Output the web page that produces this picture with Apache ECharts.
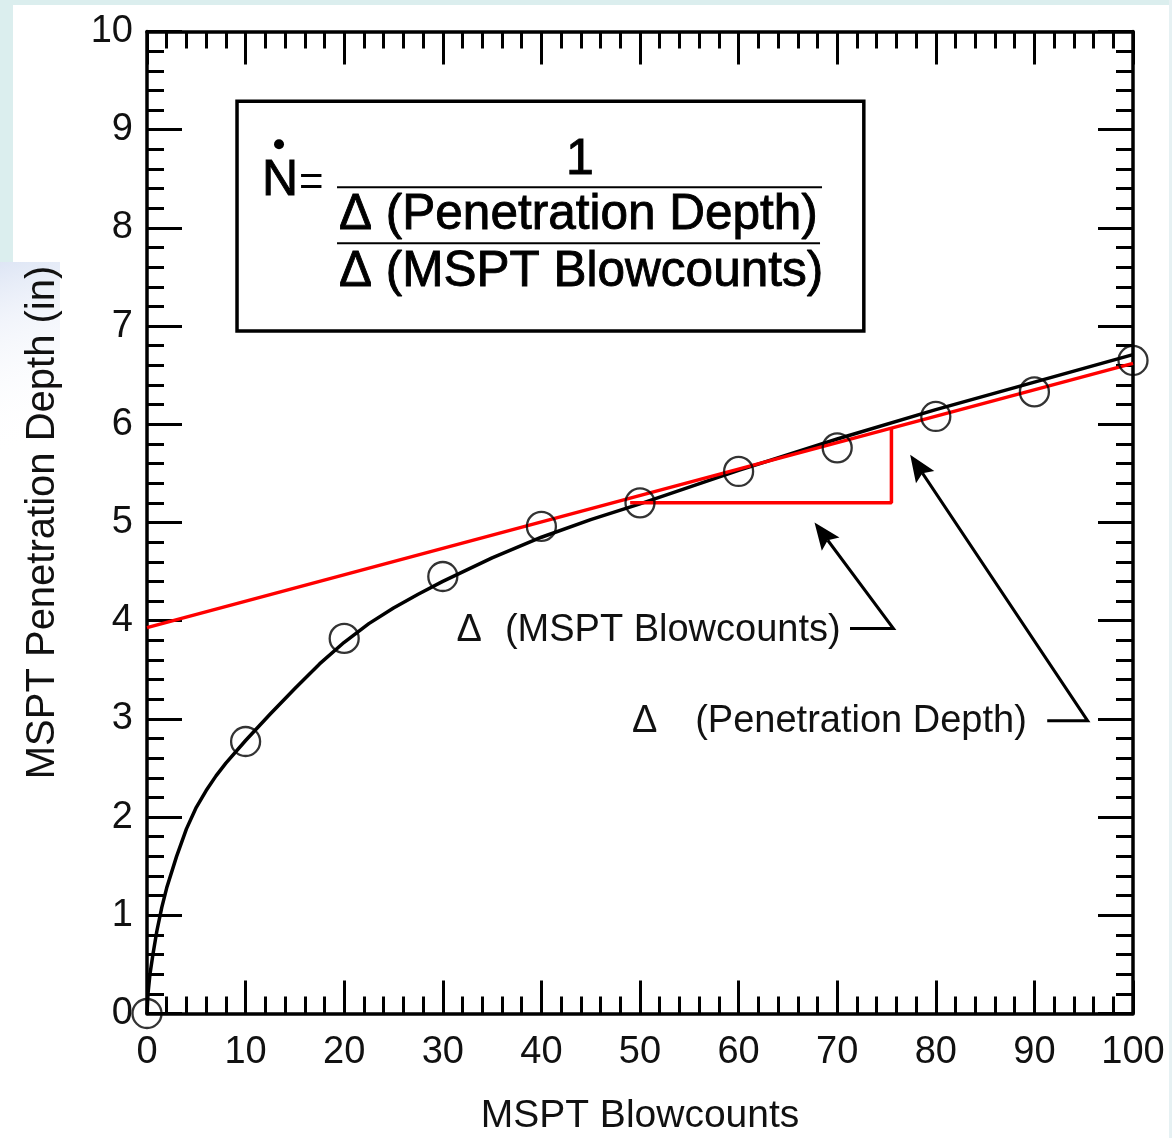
<!DOCTYPE html>
<html><head><meta charset="utf-8">
<script src="https://cdn.jsdelivr.net/npm/echarts@6/dist/echarts.min.js"></script>
<style>html,body{margin:0;padding:0;background:#fff}#c{width:1172px;height:1138px}</style>
</head><body><div id="c"></div>
<script>
// Measured MSPT data (circles)
const blowcounts = [0, 10, 20, 30, 40, 50, 60, 70, 80, 90, 100];
const depth = [0, 2.77, 3.82, 4.45, 4.96, 5.20, 5.52, 5.76, 6.08, 6.33, 6.65];
// Fitted curve (black)
const fitX = [0, 0.1, 0.3, 0.6, 1, 1.5, 2, 3, 4, 5, 6, 7, 8, 10, 12.5, 15, 17.5, 20, 22.5, 25, 27.5, 30, 35, 40, 45, 50, 60, 70, 80, 90, 100];
const fitY = [0, 0.2, 0.4, 0.6, 0.84, 1.08, 1.28, 1.6, 1.88, 2.1, 2.27, 2.42, 2.55, 2.78, 3.05, 3.31, 3.56, 3.78, 3.97, 4.13, 4.27, 4.4, 4.64, 4.85, 5.03, 5.19, 5.53, 5.85, 6.15, 6.43, 6.71];
// Tangent line (red)
const tangentX = [0, 100];
const tangentY = [3.93, 6.62];
// Slope triangle (red)
const triX = [49, 75.5, 75.5];
const triY = [5.2, 5.2, 5.96];
// Annotation anchors (data coordinates)
const arrow1 = [[71.3, 3.92], [75.7, 3.92], [67.7, 5.0]];
const arrow2 = [[91.3, 2.98], [95.4, 2.98], [77.4, 5.69]];
const label1 = { delta: [31.4, 3.905], text: [36.3, 3.905], str: '(MSPT Blowcounts)' };
const label2 = { delta: [49.2, 2.97], text: [55.6, 2.97], str: '(Penetration Depth)' };
const boxCorners = [[9.13, 9.29], [72.7, 6.95]];
const eqNumerator = '1';
const eqDenTop = '\u0394 (Penetration Depth)';
const eqDenBottom = '\u0394 (MSPT Blowcounts)';

const FONT = '"Liberation Sans", Arial, Helvetica, sans-serif';
const zip = (a, b) => a.map((v, i) => [v, b[i]]);

const chart = echarts.init(document.getElementById('c'), null, { renderer: 'canvas' });

const tickStyle = { color: '#000', width: 3 };
function xAx(pos, labels) {
  return {
    type: 'value', position: pos, min: 0, max: 100, interval: 10,
    name: labels ? 'MSPT Blowcounts' : '', nameLocation: 'middle', nameGap: 83,
    nameTextStyle: { fontFamily: FONT, fontSize: 39, color: '#111' },
    axisLine: { show: true, onZero: false, lineStyle: { color: '#000', width: 3.5 } },
    axisTick: { show: true, inside: true, length: 33, lineStyle: tickStyle },
    minorTick: { show: true, splitNumber: 5, length: 17, lineStyle: tickStyle },
    axisLabel: { show: labels, margin: 20, fontFamily: FONT, fontSize: 38, color: '#111' },
    splitLine: { show: false }, minorSplitLine: { show: false }
  };
}
function yAx(pos, labels) {
  return {
    type: 'value', position: pos, min: 0, max: 10, interval: 1,
    name: labels ? 'MSPT Penetration Depth (in)' : '', nameLocation: 'middle', nameGap: 84,
    nameTextStyle: { fontFamily: FONT, fontSize: 40, color: '#111' },
    axisLine: { show: true, onZero: false, lineStyle: { color: '#000', width: 3.5 } },
    axisTick: { show: true, inside: true, length: 35, lineStyle: tickStyle },
    minorTick: { show: true, splitNumber: 5, length: 17, lineStyle: tickStyle },
    axisLabel: { show: labels, margin: 14, fontFamily: FONT, fontSize: 38, color: '#111' },
    splitLine: { show: false }, minorSplitLine: { show: false }
  };
}

chart.setOption({
  animation: false,
  backgroundColor: '#fff',
  grid: { left: 147, right: 39, top: 31.5, bottom: 124.5, containLabel: false, outerBoundsMode: 'none' },
  xAxis: [xAx('bottom', true), xAx('top', false)],
  yAxis: [yAx('left', true), yAx('right', false)],
  series: [
    { type: 'line', data: zip(fitX, fitY), smooth: false, showSymbol: false,
      lineStyle: { color: '#000', width: 3.5, join: 'round' }, z: 3, clip: false },
    { type: 'line', data: zip(tangentX, tangentY), showSymbol: false,
      lineStyle: { color: '#ff0000', width: 3.5 }, z: 4, clip: false },
    { type: 'line', data: zip(triX, triY), showSymbol: false,
      lineStyle: { color: '#ff0000', width: 3.5 }, z: 4, clip: false },
    { type: 'scatter', data: zip(blowcounts, depth), symbol: 'circle', symbolSize: 29,
      itemStyle: { color: 'rgba(0,0,0,0)', borderColor: '#000', borderWidth: 2.3 }, z: 5, clip: false }
  ]
});

const px = (p) => chart.convertToPixel({ xAxisIndex: 0, yAxisIndex: 0 }, p);

function arrowGraphics(pts) {
  const a = px(pts[0]), b = px(pts[1]), tip = px(pts[2]);
  const dx = tip[0] - b[0], dy = tip[1] - b[1];
  const len = Math.hypot(dx, dy);
  const ux = dx / len, uy = dy / len, nx = -uy, ny = ux;
  const L = 27, W = 11;
  const base = [tip[0] - ux * L, tip[1] - uy * L];
  const notch = [tip[0] - ux * L * 0.82, tip[1] - uy * L * 0.82];
  return [
    { type: 'polyline', shape: { points: [a, b, notch] }, style: { stroke: '#000', lineWidth: 3, fill: null }, z: 20 },
    { type: 'polygon', shape: { points: [tip, [base[0] + nx * W, base[1] + ny * W], notch, [base[0] - nx * W, base[1] - ny * W]] },
      style: { fill: '#000' }, z: 20 }
  ];
}
function txt(x, y, s, size) {
  return { type: 'text', x: x, y: y, z: 21,
    style: { text: s, fontFamily: FONT, fontSize: size, fill: '#111', align: 'left', verticalAlign: 'middle' } };
}

const g = [];
// page background decorations
g.push({ type: 'rect', shape: { x: 0, y: 0, width: 1172, height: 5 }, style: { fill: '#dbeeee' }, z: -10 });
g.push({ type: 'rect', shape: { x: 0, y: 0, width: 13, height: 262 }, style: { fill: '#dbeeee' }, z: -10 });
g.push({ type: 'rect', shape: { x: 1169, y: 0, width: 3, height: 1138 }, style: { fill: '#e6f1f3' }, z: -10 });
g.push({ type: 'rect', shape: { x: 0, y: 262, width: 60, height: 700 },
  style: { fill: new echarts.graphic.LinearGradient(0, 0, 1, 0.25, [
    { offset: 0, color: 'rgba(220,228,244,0.95)' }, { offset: 0.3, color: 'rgba(232,237,248,0.6)' }, { offset: 1, color: 'rgba(255,255,255,0)' }]) }, z: -10 });

// arrows
arrowGraphics(arrow1).forEach(e => g.push(e));
arrowGraphics(arrow2).forEach(e => g.push(e));
// labels
let p;
p = px(label1.delta); g.push(txt(p[0], p[1], '\u0394', 38));
p = px(label1.text); g.push(txt(p[0], p[1], label1.str, 38));
p = px(label2.delta); g.push(txt(p[0], p[1], '\u0394', 38));
p = px(label2.text); g.push(txt(p[0], p[1], label2.str, 38));

// equation box
const b0 = px(boxCorners[0]), b1 = px(boxCorners[1]);
const bx = b0[0], by = b0[1];
g.push({ type: 'rect', shape: { x: bx, y: by, width: b1[0] - bx, height: b1[1] - by },
  style: { fill: '#fff', stroke: '#000', lineWidth: 3.5 }, z: 15 });
const eqStyle = (s, size) => ({ text: s, fontFamily: FONT, fontSize: size, fill: '#000', stroke: '#000', lineWidth: 0.9, verticalAlign: 'middle' });
g.push({ type: 'text', x: bx + 25, y: by + 80, z: 16, style: Object.assign(eqStyle('N', 50), { align: 'left' }) });
g.push({ type: 'circle', shape: { cx: bx + 42, cy: by + 43, r: 5 }, style: { fill: '#000' }, z: 16 });
g.push({ type: 'text', x: bx + 62, y: by + 82, z: 16, style: Object.assign(eqStyle('=', 42), { align: 'left', lineWidth: 0 }) });
g.push({ type: 'text', x: bx + 343, y: by + 59, z: 16, style: Object.assign(eqStyle(eqNumerator, 50), { align: 'center' }) });
g.push({ type: 'line', shape: { x1: bx + 100, y1: by + 86, x2: bx + 585, y2: by + 86 }, style: { stroke: '#000', lineWidth: 2 }, z: 16 });
g.push({ type: 'text', x: bx + 102, y: by + 114, z: 16, style: Object.assign(eqStyle(eqDenTop, 49.5), { align: 'left' }) });
g.push({ type: 'line', shape: { x1: bx + 100, y1: by + 142, x2: bx + 583, y2: by + 142 }, style: { stroke: '#000', lineWidth: 2 }, z: 16 });
g.push({ type: 'text', x: bx + 102, y: by + 171, z: 16, style: Object.assign(eqStyle(eqDenBottom, 49.5), { align: 'left' }) });

chart.setOption({ graphic: g });
</script>
</body></html>
